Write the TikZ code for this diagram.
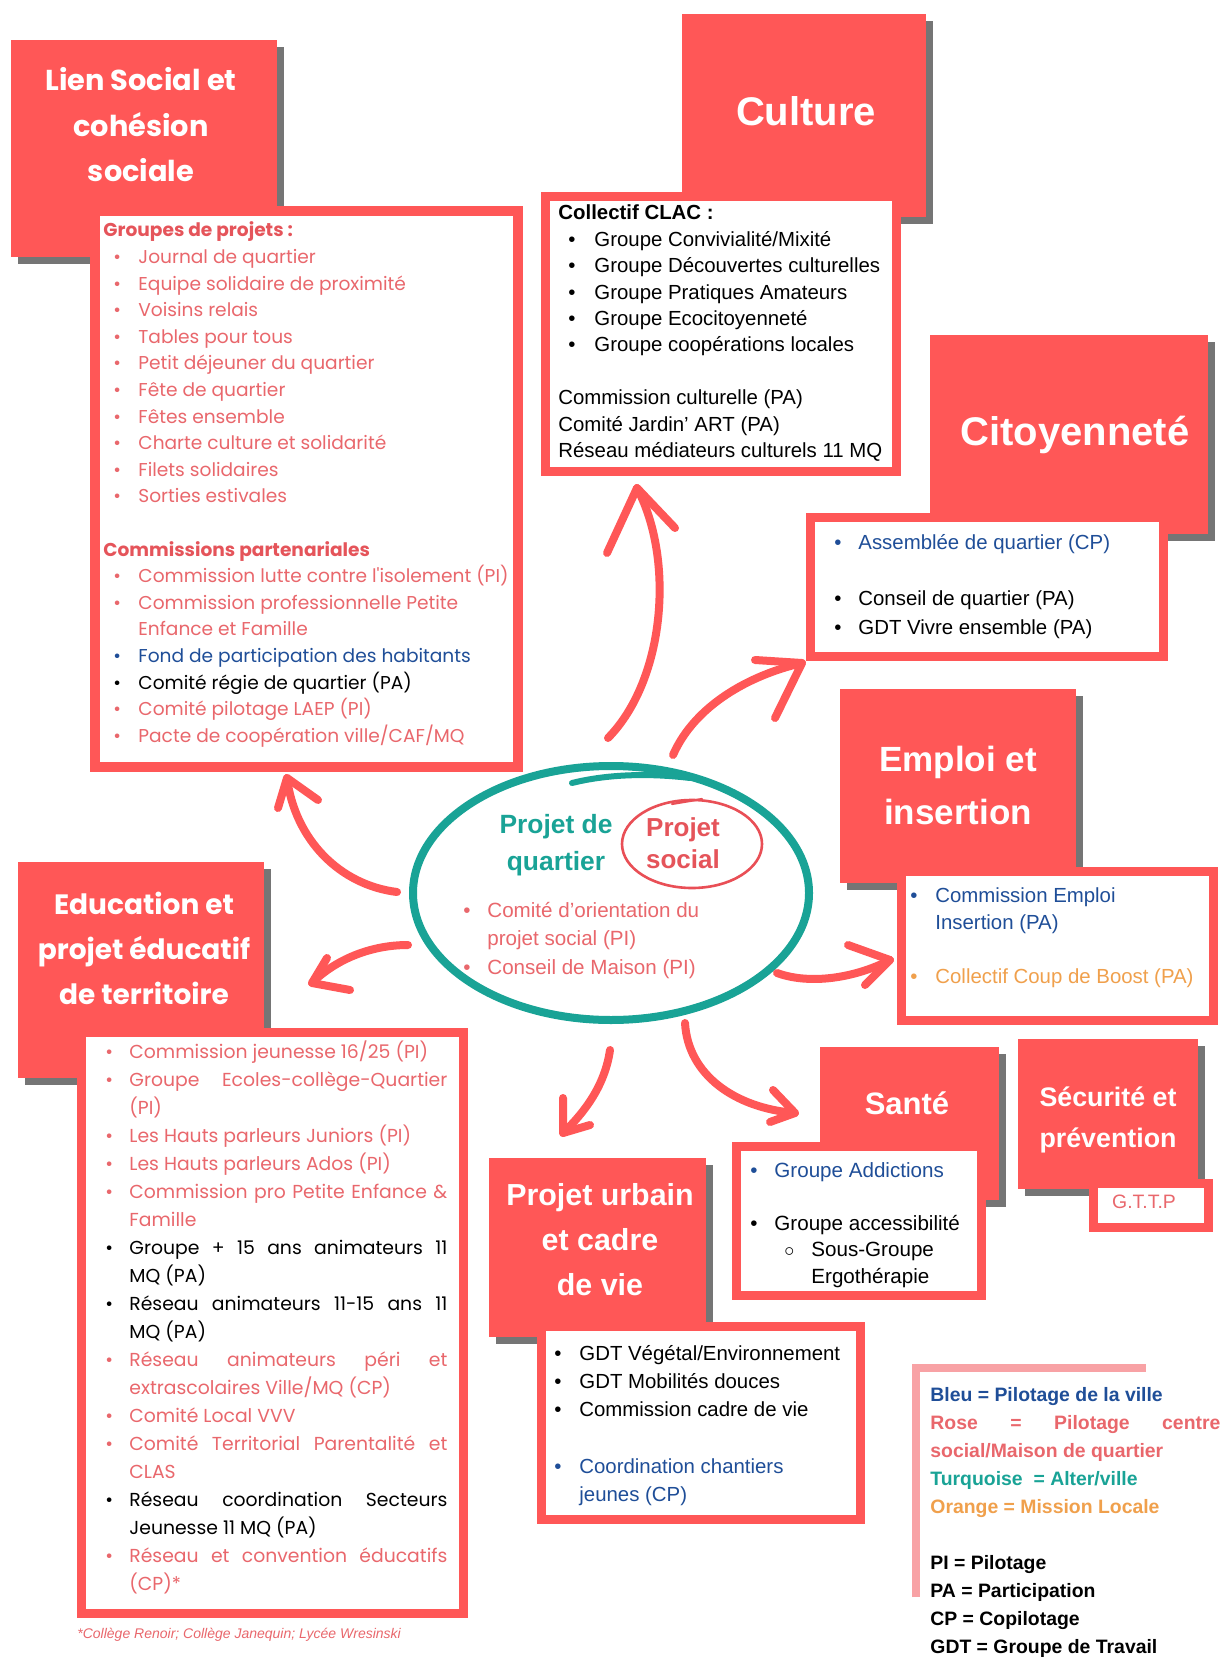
\documentclass[tikz,border=0pt]{standalone}
\usepackage{fontspec}
\setmainfont{Liberation Sans}
\newfontfamily\pop{Poppins}
\definecolor{boxred}{HTML}{FF5757}
\definecolor{shadowgray}{HTML}{757575}
\definecolor{coral}{HTML}{E9676C}
\definecolor{coralhead}{HTML}{E5545A}
\definecolor{vblue}{HTML}{1F4E98}
\definecolor{tealc}{HTML}{19A396}
\definecolor{orangec}{HTML}{F0A04C}
\definecolor{legline}{HTML}{F8A2A5}
\definecolor{ringred}{HTML}{E94F56}
\newcommand{\myb}[4]{\hspace*{#1}\makebox[#2][l]{\textcolor{#3}{\textbullet}}\textcolor{#3}{#4}}
\newcommand{\myei}[2]{\par\hangindent=12pt\hangafter=1\noindent\makebox[12pt][l]{\textcolor{#1}{\textbullet}}\textcolor{#1}{#2}}
\tikzset{
  shadowbox/.style={fill=shadowgray},
  titlebox/.style={fill=boxred},
  contentbox/.style={draw=boxred, line width=4.5pt, fill=white},
  arrowline/.style={draw=boxred, line width=4pt, line cap=round, line join=round},
  txt/.style={anchor=base west, inner sep=0pt},
  ttl/.style={anchor=base, inner sep=0pt, text=white},
}
\begin{document}
\begin{tikzpicture}[x=0.5pt,y=-0.5pt]
\useasboundingbox (0,0) rectangle (1220,1657);
\fill[white] (0,0) rectangle (1220,1657);

% title boxes with shadows
\foreach \xa/\ya/\xb/\yb in {11/40/277/257,682/14/926/217,930/335/1208/534,840/689/1076/883,18/862/264/1078,489/1158/706/1337,820/1047/999/1200,1018/1039/1198/1189}{
  \fill[shadowbox] (\xa+7,\ya+7) rectangle (\xb+7,\yb+7);
  \fill[titlebox] (\xa,\ya) rectangle (\xb,\yb);
}

% content boxes
\draw[contentbox, line width=5pt] (95,211) rectangle (518,767);
\draw[contentbox] (545.5,196.5) rectangle (896.5,471.5);
\draw[contentbox] (810.5,517.5) rectangle (1163.5,656.5);
\draw[contentbox] (901.5,871.5) rectangle (1213.5,1020.5);
\draw[contentbox] (81.5,1032.5) rectangle (463.5,1613.5);
\draw[contentbox] (541.5,1326.5) rectangle (860.5,1519.5);
\draw[contentbox] (736.5,1146.5) rectangle (981.5,1295.5);
\draw[contentbox] (1093.5,1183.5) rectangle (1208.5,1227.5);

% titles
\node[ttl] (lienttl) at (141,91) {\begin{minipage}[t]{130pt}\centering\pop\bfseries\fontsize{14.4}{22.7}\selectfont Lien Social et\\cohésion\\sociale\end{minipage}};
\node[ttl] (cultttl) at (806,126) {\bfseries\fontsize{20}{24}\selectfont Culture};
\node[ttl] (citttl) at (1075,446) {\bfseries\fontsize{20}{24}\selectfont Citoyenneté};
\node[ttl] (empttl) at (958,771) {\begin{minipage}[t]{110pt}\centering\bfseries\fontsize{17.5}{26.5}\selectfont Emploi et\\insertion\end{minipage}};
\node[ttl] (eduttl) at (144,914) {\begin{minipage}[t]{122pt}\centering\pop\bfseries\fontsize{14}{22.5}\selectfont Education et\\projet éducatif\\de territoire\end{minipage}};
\node[ttl] (urbttl) at (600,1205) {\begin{minipage}[t]{108pt}\centering\bfseries\fontsize{15.2}{22.5}\selectfont Projet urbain\\et cadre\\de vie\end{minipage}};
\node[ttl] (santttl) at (907,1114) {\bfseries\fontsize{15.5}{18}\selectfont Santé};
\node[ttl] (secttl) at (1108,1106) {\begin{minipage}[t]{90pt}\centering\bfseries\fontsize{13.4}{20.5}\selectfont Sécurité et\\prévention\end{minipage}};
\node[anchor=base, inner sep=0pt, text=coral] (gttp) at (1144,1208) {\fontsize{9.7}{12}\selectfont G.T.T.P};

% Lien social content
\node[txt] (lientxt) at (103,237) {\begin{minipage}[t]{215pt}\pop\fontsize{9.3}{13.3}\selectfont\raggedright
\textcolor{coralhead}{\bfseries Groupes de projets :}\\
\myb{5pt}{12.5pt}{coral}{Journal de quartier}\\
\myb{5pt}{12.5pt}{coral}{Equipe solidaire de proximité}\\
\myb{5pt}{12.5pt}{coral}{Voisins relais}\\
\myb{5pt}{12.5pt}{coral}{Tables pour tous}\\
\myb{5pt}{12.5pt}{coral}{Petit déjeuner du quartier}\\
\myb{5pt}{12.5pt}{coral}{Fête de quartier}\\
\myb{5pt}{12.5pt}{coral}{Fêtes ensemble}\\
\myb{5pt}{12.5pt}{coral}{Charte culture et solidarité}\\
\myb{5pt}{12.5pt}{coral}{Filets solidaires}\\
\myb{5pt}{12.5pt}{coral}{Sorties estivales}\\[13.3pt]
\textcolor{coralhead}{\bfseries Commissions partenariales}\\
\myb{5pt}{12.5pt}{coral}{Commission lutte contre l'isolement (PI)}\\
\myb{5pt}{12.5pt}{coral}{Commission professionnelle Petite}\\
\hspace*{17.5pt}\textcolor{coral}{Enfance et Famille}\\
\myb{5pt}{12.5pt}{vblue}{Fond de participation des habitants}\\
\myb{5pt}{12.5pt}{black}{Comité régie de quartier (PA)}\\
\myb{5pt}{12.5pt}{coral}{Comité pilotage LAEP (PI)}\\
\myb{5pt}{12.5pt}{coral}{Pacte de coopération ville/CAF/MQ}
\end{minipage}};

% Culture content
\node[txt] (culttxt) at (558,220) {\begin{minipage}[t]{172pt}\fontsize{10.2}{13.2}\selectfont\raggedright
\textbf{Collectif CLAC :}\\
\myb{5pt}{13pt}{black}{Groupe Convivialité/Mixité}\\
\myb{5pt}{13pt}{black}{Groupe Découvertes culturelles}\\
\myb{5pt}{13pt}{black}{Groupe Pratiques Amateurs}\\
\myb{5pt}{13pt}{black}{Groupe Ecocitoyenneté}\\
\myb{5pt}{13pt}{black}{Groupe coopérations locales}\\[13.2pt]
Commission culturelle (PA)\\
Comité Jardin’ ART (PA)\\
Réseau médiateurs culturels 11 MQ
\end{minipage}};

% Citoyennete content
\node[txt] (cittxt) at (834,550) {\begin{minipage}[t]{160pt}\fontsize{10.2}{14}\selectfont\raggedright
\myb{0pt}{12pt}{vblue}{Assemblée de quartier (CP)}\\[14pt]
\myb{0pt}{12pt}{black}{Conseil de quartier (PA)}\\
\myb{0pt}{12pt}{black}{GDT Vivre ensemble (PA)}
\end{minipage}};

% Emploi content
\node[txt] (emptxt) at (910,902) {\begin{minipage}[t]{152pt}\fontsize{10.2}{13.5}\selectfont\raggedright
\myb{0pt}{12.5pt}{vblue}{Commission Emploi}\\
\hspace*{12.5pt}\textcolor{vblue}{Insertion (PA)}\\[13.5pt]
\myb{0pt}{12.5pt}{orangec}{Collectif Coup de Boost (PA)}
\end{minipage}};

% Education content
\node[txt] (edutxt) at (105,1058) {\begin{minipage}[t]{171pt}\pop\fontsize{9.4}{14}\selectfont
\setlength{\parindent}{0pt}\setlength{\parskip}{0pt}\hyphenpenalty=10000\emergencystretch=20pt
\myei{coral}{Commission jeunesse 16/25 (PI)}
\myei{coral}{Groupe Ecoles-collège-Quartier\linebreak (PI)}
\myei{coral}{Les Hauts parleurs Juniors (PI)}
\myei{coral}{Les Hauts parleurs Ados (PI)}
\myei{coral}{Commission pro Petite Enfance \&\linebreak Famille}
\myei{black}{Groupe + 15 ans animateurs 11\linebreak MQ (PA)}
\myei{black}{Réseau animateurs 11-15 ans 11\linebreak MQ (PA)}
\myei{coral}{Réseau animateurs péri et\linebreak extrascolaires Ville/MQ (CP)}
\myei{coral}{Comité Local VVV}
\myei{coral}{Comité Territorial Parentalité et\linebreak CLAS}
\myei{black}{Réseau coordination Secteurs\linebreak Jeunesse 11 MQ (PA)}
\myei{coral}{Réseau et convention éducatifs\linebreak (CP)*}
\end{minipage}};
\node[txt, text=coral] (foot) at (77,1638) {\itshape\fontsize{7}{8}\selectfont *Collège Renoir; Collège Janequin; Lycée Wresinski};

% Projet urbain content
\node[txt] (urbtxt) at (554,1360) {\begin{minipage}[t]{150pt}\fontsize{10.2}{14.15}\selectfont\raggedright
\myb{0pt}{12.5pt}{black}{GDT Végétal/Environnement}\\
\myb{0pt}{12.5pt}{black}{GDT Mobilités douces}\\
\myb{0pt}{12.5pt}{black}{Commission cadre de vie}\\[14.15pt]
\myb{0pt}{12.5pt}{vblue}{Coordination chantiers}\\
\hspace*{12.5pt}\textcolor{vblue}{jeunes (CP)}
\end{minipage}};

% Sante content
\node[txt] (santtxt) at (750,1177) {\begin{minipage}[t]{115pt}\fontsize{10.3}{13.25}\selectfont\raggedright
\myb{0pt}{12pt}{vblue}{Groupe Addictions}\\[13.25pt]
\myb{0pt}{12pt}{black}{Groupe accessibilité}\\
\hspace*{17pt}\makebox[13.5pt][l]{$\circ$}Sous-Groupe\\
\hspace*{30.5pt}Ergothérapie
\end{minipage}};

% central ellipse
\draw[tealc, line width=4pt] (611,893) ellipse [x radius=99pt, y radius=63.5pt];
\draw[tealc, line width=3pt, line cap=round] (572,783) .. controls (600,776) and (640,772) .. (690,778);
\node[anchor=base, inner sep=0pt, text=tealc] (pq) at (556,833) {\begin{minipage}[t]{80pt}\centering\bfseries\fontsize{13.2}{18.5}\selectfont Projet de\\quartier\end{minipage}};
\draw[ringred, line width=1.3pt] (692,844) ellipse [x radius=35pt, y radius=22pt];
\draw[ringred, line width=1.1pt, line cap=round] (672,804) -- (702,799);
\node[anchor=base, inner sep=0pt, text=coralhead] (ps) at (683,836) {\begin{minipage}[t]{60pt}\centering\bfseries\fontsize{13}{16}\selectfont Projet\\social\end{minipage}};
\node[txt] (elltxt) at (463,917) {\begin{minipage}[t]{150pt}\fontsize{10.3}{14.25}\selectfont\raggedright
\myb{0pt}{12pt}{coral}{Comité d’orientation du}\\
\hspace*{12pt}\textcolor{coral}{projet social (PI)}\\
\myb{0pt}{12pt}{coral}{Conseil de Maison (PI)}
\end{minipage}};

% arrows
\coordinate (aT) at (397,892); \coordinate (aH) at (287,778);
\coordinate (bT) at (608,738); \coordinate (bH) at (637,488);
\coordinate (cT) at (673,755); \coordinate (cH) at (802,663);
\coordinate (dT) at (408,945); \coordinate (dH) at (312,983);
\coordinate (eT) at (777,973); \coordinate (eH) at (890,960);
\coordinate (fT) at (610,1050); \coordinate (fH) at (563,1133);
\coordinate (gT) at (685,1023); \coordinate (gH) at (795,1113);
\draw[arrowline] (aT) .. controls (340,885) and (295,840) .. (aH);
\draw[arrowline] (278,808) -- (aH) -- (318,800);
\draw[arrowline] (bT) .. controls (665,680) and (675,560) .. (bH);
\draw[arrowline] (607,553) -- (bH) -- (675,528);
\draw[arrowline] (cT) .. controls (695,705) and (750,675) .. (cH);
\draw[arrowline] (755,660) -- (cH) -- (775,718);
\draw[arrowline] (dT) .. controls (370,945) and (335,960) .. (dH);
\draw[arrowline] (327,958) -- (dH) -- (350,990);
\draw[arrowline] (eT) .. controls (810,985) and (855,978) .. (eH);
\draw[arrowline] (848,945) -- (eH) -- (865,985);
\draw[arrowline] (fT) .. controls (605,1085) and (585,1112) .. (fH);
\draw[arrowline] (563,1098) -- (fH) -- (590,1125);
\draw[arrowline] (gT) .. controls (688,1075) and (735,1108) .. (gH);
\draw[arrowline] (773,1090) -- (gH) -- (770,1122);

% legend
\draw[legline, line width=4pt] (916,1597) -- (916,1368) -- (1146,1368);
\node[txt] (legend) at (930,1401) {\begin{minipage}[t]{145pt}\bfseries\fontsize{9.7}{14}\selectfont
\setlength{\parindent}{0pt}\setlength{\parskip}{0pt}
\textcolor{vblue}{Bleu = Pilotage de la ville}\par
\textcolor{coral}{Rose = Pilotage centre\linebreak social/Maison de quartier}\par
\textcolor{tealc}{Turquoise\ \ = Alter/ville}\par
\textcolor{orangec}{Orange = Mission Locale}\par\vspace{14pt}
PI = Pilotage\par
PA = Participation\par
CP = Copilotage\par
GDT = Groupe de Travail
\end{minipage}};
\end{tikzpicture}
\end{document}
